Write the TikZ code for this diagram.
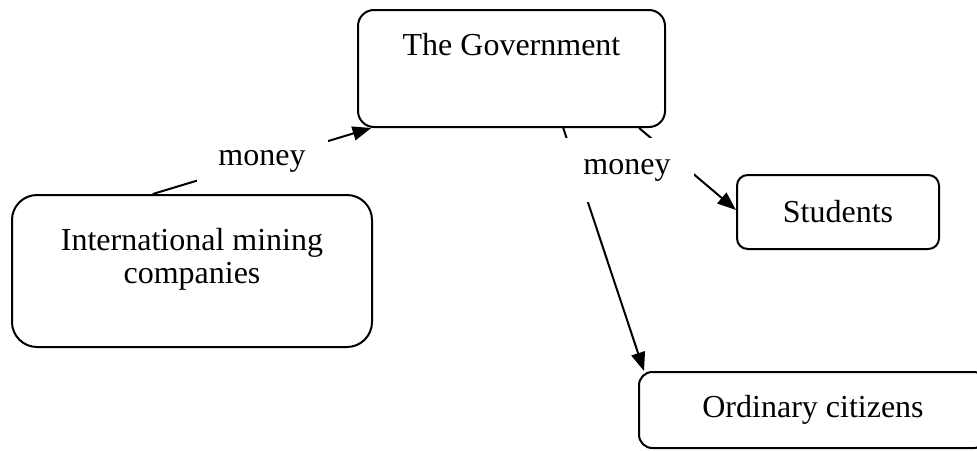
\documentclass[tikz,border=0pt]{standalone}
\usepackage{fontspec}
\setmainfont{Liberation Serif}
\usetikzlibrary{arrows.meta,calc,positioning}

\begin{document}
\begin{tikzpicture}[x=0.75pt,y=-0.75pt,
  font=\fontsize{24pt}{24.75pt}\selectfont,
  box/.style={draw,line width=1.5pt},
  flow/.style={line width=1.5pt,-{Triangle[length=14pt,width=10.5pt]}},
  moneylbl/.style={fill=white,inner sep=0pt}]
  \clip (0,0) rectangle (977,450);

  % boxes
  \node[box,rounded corners=12pt,minimum width=230.25pt,minimum height=87.75pt,
        text height=16.4pt,text depth=36.5pt] (gov) at (511.5,68.5) {The Government};
  \node[box,rounded corners=18.75pt,minimum width=270pt,minimum height=114pt,
        text depth=48pt] (mine) at (192,271)
        {\parbox[t]{260pt}{\centering International mining\\companies}};
  \node[box,rounded corners=8pt,minimum width=151.5pt,minimum height=55.5pt] (stud) at (838,212) {Students};
  \node[box,rounded corners=10pt,minimum width=261pt,minimum height=57pt] (cit) at (813,410) {Ordinary citizens};

  % money flows
  \draw[flow] (mine.117) -- (gov.203)
    node[moneylbl,pos=0.5,minimum width=98.25pt,minimum height=33pt] (m1) {money};
  \draw[flow] (gov.311) -- (cit.167);
  \draw[flow] (gov.335.5) -- ([yshift=1.5pt]stud.west);
  \node[moneylbl,minimum width=100.5pt,minimum height=48pt] (m2) at (627,170) {money};
\end{tikzpicture}
\end{document}
